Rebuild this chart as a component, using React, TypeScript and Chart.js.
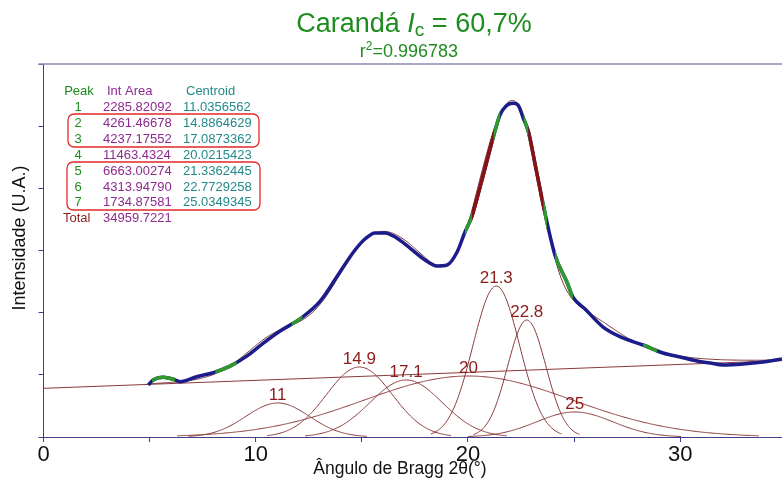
import { useEffect, useRef } from "react";
import { Chart, registerables } from "chart.js";

Chart.register(...registerables);

// Measured diffractogram: 2θ (degrees) and intensity (arbitrary units)
const scanAngle = [
  4.94, 5.17, 5.65, 6.12, 6.43, 7.22, 8.0, 8.79, 9.58, 10.36, 11.15, 12.09, 13.03, 13.97, 14.68,
  15.15, 15.62, 16.09, 16.57, 17.27, 17.98, 18.54, 19.02, 19.49, 19.86, 20.18, 20.66, 21.2, 21.51,
  21.8, 22.14, 22.36, 22.61, 22.85, 23.2, 23.55, 24.1, 24.66, 24.95, 25.52, 26.37, 27.31, 28.25,
  29.19, 29.99, 30.8, 31.41, 32.02, 32.96, 33.9, 34.8,
];
const scanIntensity = [
  83.6, 91.7, 96.0, 92.8, 89.0, 97.0, 103.5, 114.0, 130.0, 151.0, 170.5, 190.0, 218.0, 265.4, 300.8,
  318.5, 328.2, 328.2, 321.7, 304.0, 284.7, 275.1, 276.7, 297.6, 329.8, 354.4, 413.4, 483.1, 518.0,
  532.4, 536.8, 534.1, 512.7, 491.1, 432.7, 373.2, 292.8, 249.8, 225.2, 205.9, 176.9, 159.3, 148.0,
  135.1, 128.7, 122.3, 119.0, 115.8, 117.4, 120.6, 125.5,
];

// Stretches of the scan highlighted in other colours (2θ ranges)
const greenStretches = [
  [5.12, 6.2], [8.1, 9.1], [11.7, 12.2], [19.86, 20.19], [21.2, 21.52], [22.62, 22.85],
  [23.55, 23.73], [24.1, 24.95], [28.25, 28.91],
];
const redStretches = [[20.19, 21.2], [22.85, 23.55]];

// Linear background
const baselineAngle = [0, 34.8];
const baselineIntensity = [78.3, 122.9];

// Deconvolution: peak table
const peakIds = ["1", "2", "3", "4", "5", "6", "7"];
const peakAreas = [
  "2285.82092", "4261.46678", "4237.17552", "11463.4324", "6663.00274", "4313.94790", "1734.87581",
];
const peakCentroidText = [
  "11.0356562", "14.8864629", "17.0873362", "20.0215423", "21.3362445", "22.7729258", "25.0349345",
];
const peakCentroids = [11.0356562, 14.8864629, 17.0873362, 20.0215423, 21.3362445, 22.7729258, 25.0349345];
const peakHeights = [54.7, 112.6, 91.7, 98.1, 242.9, 188.2, 40.2];
const peakSigmas = [1.5, 1.55, 1.7, 4.9, 1.1, 0.9, 1.8];
const totalArea = "34959.7221";

const X_MAX = 34.8;
const FONT = '"Liberation Sans", Arial, Helvetica, sans-serif';
const AXIS_COLOR = "#3e3e8c";
const PEAK_COLOR = "#8b3a3a";
const LABEL_RED = "#8b1c1c";
const GREEN = "#1e8c1e";
const PURPLE = "#8e2a8e";
const TEAL = "#23898a";
const SCAN_BLUE = "#1c1c8a";
const SCAN_GREEN = "#2e9a2e";
const SCAN_RED = "#8b1010";

function gaussian(i: number, x: number) {
  const d = (x - peakCentroids[i]) / peakSigmas[i];
  return peakHeights[i] * Math.exp(-0.5 * d * d);
}

function background(x: number) {
  const t = (x - baselineAngle[0]) / (baselineAngle[1] - baselineAngle[0]);
  return baselineIntensity[0] + t * (baselineIntensity[1] - baselineIntensity[0]);
}

function peakCurve(i: number) {
  const c = peakCentroids[i];
  const s = peakSigmas[i];
  const from = Math.max(0, c - 2.8 * s);
  const to = Math.min(X_MAX, c + 2.8 * s);
  const pts: { x: number; y: number }[] = [];
  for (let x = from; x <= to + 1e-9; x += 0.05) pts.push({ x, y: gaussian(i, x) });
  return pts;
}

function fitCurve() {
  const pts: { x: number; y: number }[] = [];
  for (let x = scanAngle[0]; x <= X_MAX + 1e-9; x += 0.05) {
    let y = background(x);
    for (let i = 0; i < peakCentroids.length; i++) y += gaussian(i, x);
    pts.push({ x, y });
  }
  return pts;
}

type Run = { text: string; font: string; dy?: number };

function drawRuns(ctx: CanvasRenderingContext2D, runs: Run[], cx: number, baseline: number) {
  let total = 0;
  for (const r of runs) {
    ctx.font = r.font;
    total += ctx.measureText(r.text).width;
  }
  let x = cx - total / 2;
  ctx.textAlign = "left";
  ctx.textBaseline = "alphabetic";
  for (const r of runs) {
    ctx.font = r.font;
    ctx.fillText(r.text, x, baseline + (r.dy || 0));
    x += ctx.measureText(r.text).width;
  }
}

function roundRect(ctx: CanvasRenderingContext2D, x: number, y: number, w: number, h: number, r: number) {
  ctx.beginPath();
  ctx.moveTo(x + r, y);
  ctx.lineTo(x + w - r, y);
  ctx.arcTo(x + w, y, x + w, y + r, r);
  ctx.lineTo(x + w, y + h - r);
  ctx.arcTo(x + w, y + h, x + w - r, y + h, r);
  ctx.lineTo(x + r, y + h);
  ctx.arcTo(x, y + h, x, y + h - r, r);
  ctx.lineTo(x, y + r);
  ctx.arcTo(x, y, x + r, y, r);
  ctx.closePath();
}

const SCAN_INDEX = 0;

const decorations = {
  id: "decorations",
  afterDatasetsDraw(chart: any) {
    const { ctx, chartArea } = chart;
    const xs = chart.scales.x;
    const ys = chart.scales.y;
    const line = chart.getDatasetMeta(SCAN_INDEX).dataset;

    // coloured stretches of the measured scan
    const paint = (ranges: number[][], color: string) => {
      for (const [a, b] of ranges) {
        const x0 = xs.getPixelForValue(a);
        const x1 = xs.getPixelForValue(b);
        ctx.save();
        ctx.beginPath();
        ctx.rect(x0, chartArea.top, x1 - x0, chartArea.bottom - chartArea.top);
        ctx.clip();
        ctx.beginPath();
        line.path(ctx);
        ctx.strokeStyle = color;
        ctx.lineWidth = 3.5;
        ctx.lineJoin = "round";
        ctx.stroke();
        ctx.restore();
      }
    };
    paint(greenStretches, SCAN_GREEN);
    paint(redStretches, SCAN_RED);

    // peak position labels
    ctx.save();
    ctx.fillStyle = LABEL_RED;
    ctx.font = `17px ${FONT}`;
    ctx.textAlign = "center";
    ctx.textBaseline = "alphabetic";
    peakCentroids.forEach((c, i) => {
      const label = (Math.round(c * 10) / 10).toString();
      ctx.fillText(label, xs.getPixelForValue(c), ys.getPixelForValue(peakHeights[i]) - 3);
    });
    ctx.restore();
  },
  afterDraw(chart: any) {
    const { ctx, chartArea } = chart;
    ctx.save();

    // upper frame line
    ctx.strokeStyle = "#8a8ab4";
    ctx.lineWidth = 1.5;
    ctx.beginPath();
    ctx.moveTo(chartArea.left - 5, chartArea.top);
    ctx.lineTo(chartArea.right, chartArea.top);
    ctx.stroke();

    // title
    ctx.fillStyle = GREEN;
    drawRuns(
      ctx,
      [
        { text: "Carandá ", font: `27px ${FONT}` },
        { text: "I", font: `italic 27px ${FONT}` },
        { text: "c", font: `19px ${FONT}`, dy: 4 },
        { text: " = 60,7%", font: `27px ${FONT}` },
      ],
      414,
      32
    );
    drawRuns(
      ctx,
      [
        { text: "r", font: `18px ${FONT}` },
        { text: "2", font: `12px ${FONT}`, dy: -7 },
        { text: "=0.996783", font: `18px ${FONT}` },
      ],
      409,
      57
    );

    // axis titles
    ctx.fillStyle = "#111";
    ctx.font = `17.5px ${FONT}`;
    ctx.textAlign = "center";
    ctx.textBaseline = "middle";
    ctx.fillText("Ângulo de Bragg 2θ(°)", 400, 469);
    ctx.save();
    ctx.font = `18px ${FONT}`;
    ctx.translate(20, 238);
    ctx.rotate(-Math.PI / 2);
    ctx.fillText("Intensidade (U.A.)", 0, 0);
    ctx.restore();

    // peak table
    ctx.font = `13px ${FONT}`;
    ctx.textBaseline = "alphabetic";
    ctx.textAlign = "center";
    ctx.fillStyle = GREEN;
    ctx.fillText("Peak", 79, 94.5);
    ctx.textAlign = "left";
    ctx.fillStyle = PURPLE;
    ctx.fillText("Int Area", 107, 94.5);
    ctx.fillStyle = TEAL;
    ctx.fillText("Centroid", 186, 94.5);
    peakIds.forEach((id, i) => {
      const y = 111 + i * 15.9;
      ctx.textAlign = "center";
      ctx.fillStyle = GREEN;
      ctx.fillText(id, 78, y);
      ctx.textAlign = "left";
      ctx.fillStyle = PURPLE;
      ctx.fillText(peakAreas[i], 103, y);
      ctx.fillStyle = TEAL;
      ctx.fillText(peakCentroidText[i], 183, y);
    });
    const ty = 111 + peakIds.length * 15.9;
    ctx.fillStyle = LABEL_RED;
    ctx.fillText("Total", 63, ty);
    ctx.fillStyle = PURPLE;
    ctx.fillText(totalArea, 103, ty);

    // grouping boxes
    ctx.strokeStyle = "#e02a2a";
    ctx.lineWidth = 1.3;
    roundRect(ctx, 68, 114, 191, 33, 6);
    ctx.stroke();
    roundRect(ctx, 67, 162, 193, 48, 6);
    ctx.stroke();

    ctx.restore();
  },
};

export default function App() {
  const canvasRef = useRef<HTMLCanvasElement | null>(null);

  useEffect(() => {
    const canvas = canvasRef.current;
    if (!canvas) return;

    const scanData = scanAngle.map((x, i) => ({ x, y: scanIntensity[i] }));
    const baseData = baselineAngle.map((x, i) => ({ x, y: baselineIntensity[i] }));

    const componentSets = peakCentroids.map((_, i) => ({
      data: peakCurve(i),
      borderColor: PEAK_COLOR,
      borderWidth: 1,
      pointRadius: 0,
      tension: 0,
      order: 3,
    }));

    const chart = new Chart(canvas, {
      type: "line",
      data: {
        datasets: [
          {
            data: scanData,
            borderColor: SCAN_BLUE,
            borderWidth: 3.5,
            pointRadius: 0,
            cubicInterpolationMode: "monotone",
            order: 0,
          },
          {
            data: fitCurve(),
            borderColor: "#7a3434",
            borderWidth: 1,
            pointRadius: 0,
            tension: 0,
            order: 1,
          },
          {
            data: baseData,
            borderColor: PEAK_COLOR,
            borderWidth: 1,
            pointRadius: 0,
            tension: 0,
            order: 2,
          },
          ...componentSets,
        ] as any,
      },
      options: {
        responsive: false,
        animation: false,
        devicePixelRatio: 1,
        layout: { padding: { top: 64, left: 0, right: 0, bottom: 0 } },
        plugins: {
          legend: { display: false },
          tooltip: { enabled: false },
          title: { display: false },
        },
        scales: {
          x: {
            type: "linear",
            min: 0,
            max: X_MAX,
            afterFit: (s: any) => {
              s.height = 50;
            },
            ticks: {
              stepSize: 5,
              includeBounds: false,
              autoSkip: false,
              maxRotation: 0,
              padding: 0,
              color: "#111",
              font: { family: FONT, size: 22 },
              callback: (v: any) => (Number(v) % 10 === 0 ? String(v) : ""),
            },
            grid: { drawOnChartArea: false, drawTicks: true, tickLength: 5, color: AXIS_COLOR, lineWidth: 1 },
            border: { color: AXIS_COLOR, width: 1 },
          },
          y: {
            type: "linear",
            min: 0,
            max: 600,
            afterFit: (s: any) => {
              s.width = 43.5;
            },
            ticks: { stepSize: 100, display: false },
            grid: { drawOnChartArea: false, drawTicks: true, tickLength: 5, color: AXIS_COLOR, lineWidth: 1 },
            border: { color: AXIS_COLOR, width: 1 },
          },
        },
      } as any,
      plugins: [decorations],
    });

    return () => chart.destroy();
  }, []);

  return (
    <div style={{ position: "fixed", left: 0, top: 0, width: 782, height: 487, background: "#fff" }}>
      <canvas ref={canvasRef} width={782} height={487} style={{ display: "block" }} />
    </div>
  );
}
